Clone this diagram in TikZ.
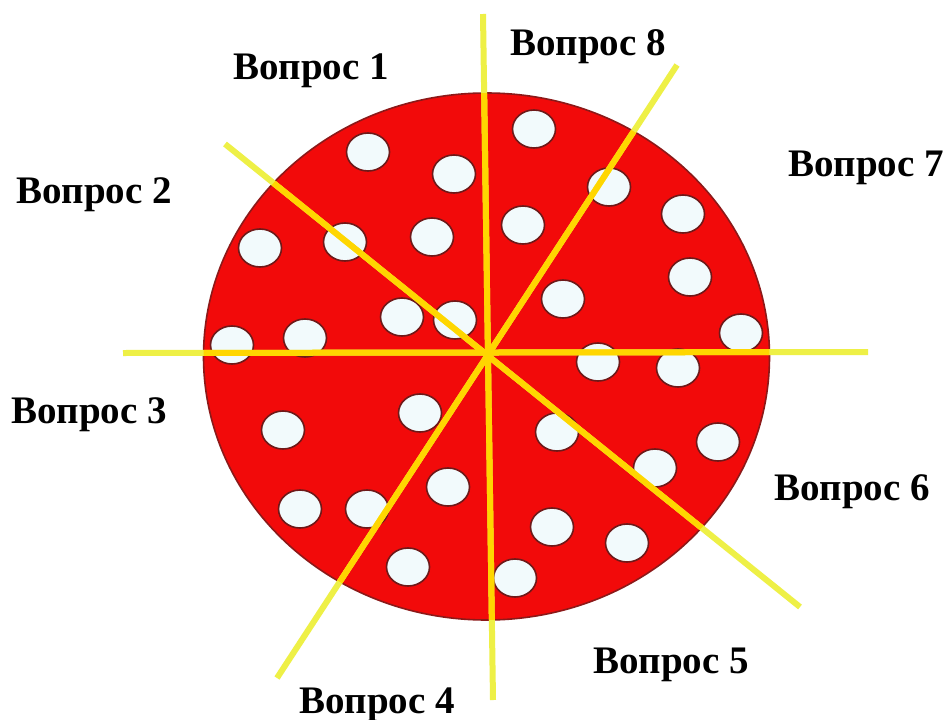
\documentclass[tikz,border=0pt]{standalone}
\usepackage{fontspec}
\setmainfont{Liberation Serif}
\definecolor{disc}{RGB}{242,10,10}
\definecolor{discedge}{RGB}{140,25,25}
\definecolor{spot}{RGB}{242,250,252}
\definecolor{spotedge}{RGB}{110,25,25}
\definecolor{rayout}{RGB}{238,240,70}
\definecolor{rayin}{RGB}{255,214,0}
\tikzset{
  spotdot/.style={fill=spot, draw=spotedge, line width=1.6pt},
  ray/.style={line width=6pt, draw=rayout},
  rayinner/.style={line width=6pt, draw=rayin},
  qlabel/.style={font=\fontsize{39}{39}\selectfont\bfseries, anchor=base, inner sep=0pt}
}
\begin{document}
\begin{tikzpicture}[x=1pt,y=-1pt]
\useasboundingbox (0,0) rectangle (945,720);
\fill[white] (0,0) rectangle (945,720);
% disc
\filldraw[fill=disc, draw=discedge, line width=1.6pt] (486.5,356.5) ellipse [x radius=283, y radius=263.5];
% spots
\foreach \x/\y in {368/152, 454/174, 260/248, 345/242, 432/237, 232/345, 305/338, 402/317, 455/320,
                   534/129, 609/187, 523/225, 683/214, 690/277, 563/299, 741/333,
                   598/362, 678/368, 557/432, 718/442, 655/468, 552/527, 627/543, 515/578,
                   420/413, 283/430, 300/509, 367/509, 448/487, 408/567}
  \draw[spotdot] (\x,\y) ellipse [x radius=21.5, y radius=19];
% rays
\coordinate (c) at (488,355);
\coordinate (vt) at (483,14);
\coordinate (vb) at (493,700);
\coordinate (hl) at (123,353);
\coordinate (hr) at (868,352);
\coordinate (at) at (225,144);
\coordinate (ab) at (800,607);
\coordinate (bt) at (677,65);
\coordinate (bb) at (277,678);
\draw[ray] (vt) -- (vb);
\draw[ray] (hl) -- (hr);
\draw[ray] (at) -- (ab);
\draw[ray] (bt) -- (bb);
\begin{scope}
  \clip (486.5,356.5) ellipse [x radius=283, y radius=263.5];
  \draw[rayinner] (vt) -- (vb);
  \draw[rayinner] (hl) -- (hr);
  \draw[rayinner] (at) -- (ab);
  \draw[rayinner] (bt) -- (bb);
\end{scope}
% labels
\node[qlabel] (q1) at (311,79) {Вопрос 1};
\node[qlabel] (q2) at (94,203) {Вопрос 2};
\node[qlabel] (q3) at (89,423) {Вопрос 3};
\node[qlabel] (q4) at (377,713) {Вопрос 4};
\node[qlabel] (q5) at (671,673) {Вопрос 5};
\node[qlabel] (q6) at (852,500) {Вопрос 6};
\node[qlabel] (q7) at (866,176) {Вопрос 7};
\node[qlabel] (q8) at (588,55) {Вопрос 8};
\end{tikzpicture}
\end{document}
